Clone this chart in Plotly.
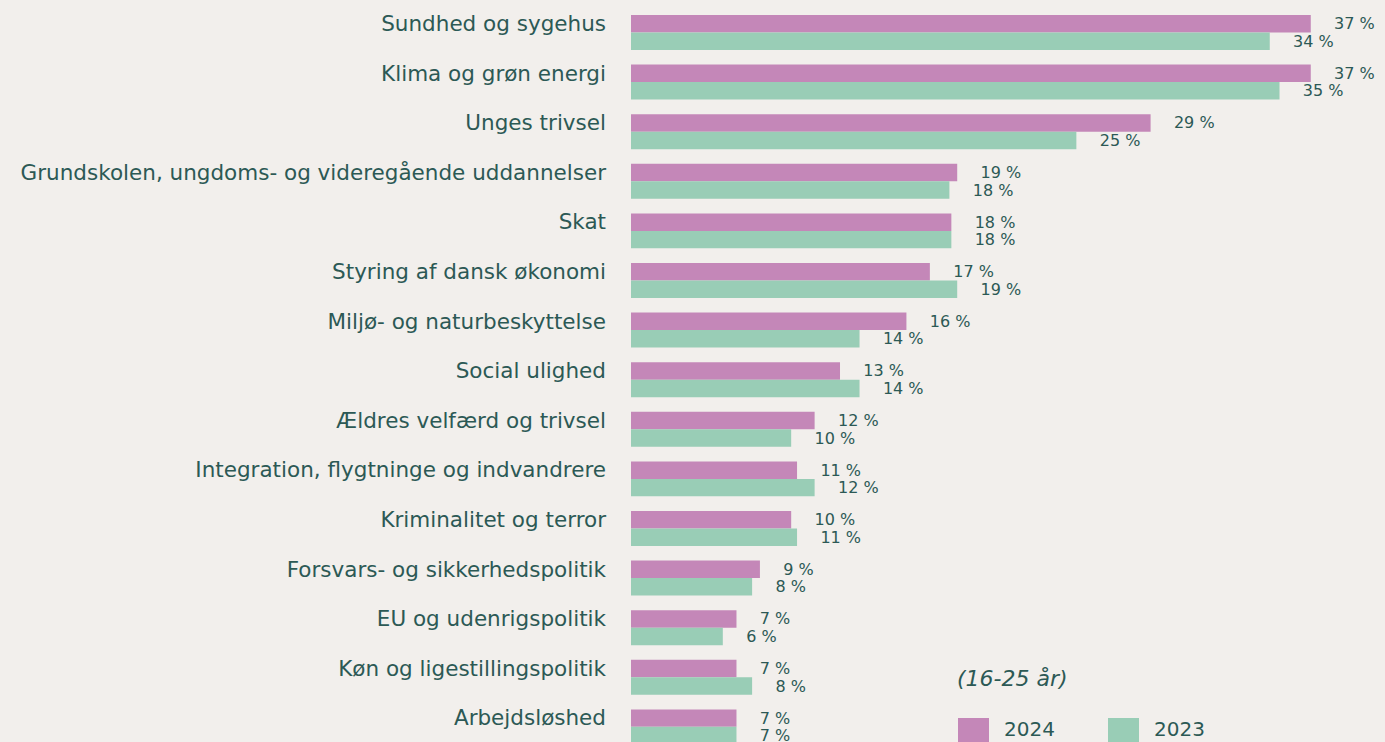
import plotly.graph_objects as go

# ---------------------------------------------------------------------------
# Data
# ---------------------------------------------------------------------------

categories = [
    "Sundhed og sygehus",
    "Klima og grøn energi",
    "Unges trivsel",
    "Grundskolen, ungdoms- og videregående uddannelser",
    "Skat",
    "Styring af dansk økonomi",
    "Miljø- og naturbeskyttelse",
    "Social ulighed",
    "Ældres velfærd og trivsel",
    "Integration, flygtninge og indvandrere",
    "Kriminalitet og terror",
    "Forsvars- og sikkerhedspolitik",
    "EU og udenrigspolitik",
    "Køn og ligestillingspolitik",
    "Arbejdsløshed",
]

# bar lengths (percent)
values_2024 = [36.8, 36.8, 28.6, 18.7, 18.4, 17.3, 16.1, 12.7, 11.4, 10.5, 10.2, 8.6, 7.4, 7.4, 7.4]
values_2023 = [34.7, 35.2, 24.8, 18.3, 18.4, 18.7, 13.7, 13.7, 10.2, 11.4, 10.5, 8.2, 6.7, 8.2, 7.4]

# printed labels (rounded)
labels_2024 = [37, 37, 29, 19, 18, 17, 16, 13, 12, 11, 10, 9, 7, 7, 7]
labels_2023 = [34, 35, 25, 18, 18, 19, 14, 14, 10, 12, 11, 8, 6, 8, 7]

series_names = ["2024", "2023"]
subtitle = "(16-25 år)"

# ---------------------------------------------------------------------------
# Style
# ---------------------------------------------------------------------------

BG = "#f2efec"
TEXT = "#2c5955"
PINK = "#c487b8"
GREEN = "#99cdb6"
FONT = "DejaVu Sans"
PAD = "\u00a0" * 4

fig = go.Figure()
for name, vals, labs, color in [
    (series_names[0], values_2024, labels_2024, PINK),
    (series_names[1], values_2023, labels_2023, GREEN),
]:
    fig.add_trace(go.Bar(
        y=categories, x=vals, name=name, orientation="h",
        marker=dict(color=color, line=dict(width=0)),
        text=[f"{PAD}{v} %" for v in labs],
        textposition="outside", constraintext="none", cliponaxis=False,
        textfont=dict(family=FONT, size=16, color=TEXT),
        showlegend=False,
    ))

fig.update_layout(
    width=1385, height=742,
    paper_bgcolor=BG, plot_bgcolor=BG,
    margin=dict(l=631, r=0, t=0, b=0),
    barmode="group", bargap=0.295, bargroupgap=0,
    font=dict(family=FONT, color=TEXT),
    xaxis=dict(range=[2.0, 40.6], visible=False, fixedrange=True),
    yaxis=dict(
        range=[14.305, -0.655], showgrid=False, zeroline=False, showline=False,
        ticks="", ticklabelstandoff=24, ticklabelshift=9, fixedrange=True,
        tickfont=dict(family=FONT, size=21.5, color=TEXT),
    ),
)

# custom legend block, bottom right
fig.add_annotation(
    xref="paper", yref="paper", x=(955 - 631) / 754, y=1 - 678 / 742,
    text=f"<i>{subtitle}</i>", showarrow=False, xanchor="left", yanchor="middle",
    font=dict(family=FONT, size=22, color=TEXT),
)
for i, (name, color) in enumerate(zip(series_names, [PINK, GREEN])):
    x0 = 958 + i * 150
    fig.add_shape(
        type="rect", xref="paper", yref="paper",
        x0=(x0 - 631) / 754, x1=(x0 + 31 - 631) / 754,
        y0=1 - 750 / 742, y1=1 - 718 / 742,
        fillcolor=color, line=dict(width=0),
    )
    fig.add_annotation(
        xref="paper", yref="paper", x=(x0 + 44 - 631) / 754, y=1 - 729 / 742,
        text=name, showarrow=False, xanchor="left", yanchor="middle",
        font=dict(family=FONT, size=20, color=TEXT),
    )

fig.write_html(
    "out.html",
    config={"displayModeBar": False},
    post_script="document.body.style.margin='0';",
)
